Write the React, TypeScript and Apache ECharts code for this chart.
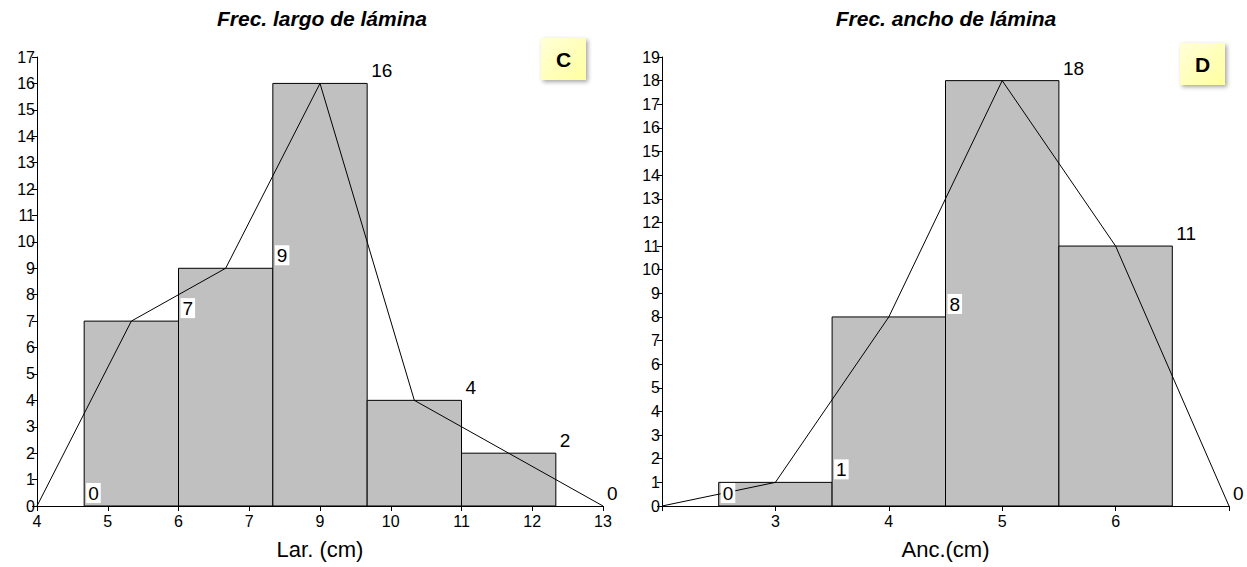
import React, { useEffect, useRef } from "react";
import * as echarts from "echarts";

// ---- Left panel (C): Frec. largo de lámina ----
const leftBinEdges = [4.75, 6.25, 7.75, 9.25, 10.75, 12.25];
const leftFreq = [7, 9, 16, 4, 2];
const leftPolyX = [4, 5.5, 7, 8.5, 10, 11.5, 13];
const leftPolyY = [0, 7, 9, 16, 4, 2, 0];
const leftLabelX = [4.75, 6.25, 7.75, 9.25, 10.75, 12.25, 13];
const leftLabelY = [0, 7, 9, 16, 4, 2, 0];
const leftTickValues = [4, 5.125, 6.25, 7.375, 8.5, 9.625, 10.75, 11.875, 13];
const leftTickLabels = ["4", "5", "6", "7", "9", "10", "11", "12", "13"];

// ---- Right panel (D): Frec. ancho de lámina ----
const rightBinEdges = [2.5, 3.5, 4.5, 5.5, 6.5];
const rightFreq = [1, 8, 18, 11];
const rightPolyX = [2, 3, 4, 5, 6, 7];
const rightPolyY = [0, 1, 8, 18, 11, 0];
const rightLabelX = [2.5, 3.5, 4.5, 5.5, 6.5, 7];
const rightLabelY = [0, 1, 8, 18, 11, 0];
const rightTickValues = [2, 3, 4, 5, 6, 7];
const rightTickLabels = ["", "3", "4", "5", "6", ""];

const FONT = '"Liberation Sans", Arial, sans-serif';

function binsData(edges: number[], freq: number[]) {
  return freq.map((f, i) => [edges[i], edges[i + 1], f]);
}

function barRender(params: any, api: any) {
  const x0 = api.value(0);
  const x1 = api.value(1);
  const y = api.value(2);
  const p0 = api.coord([x0, y]);
  const p1 = api.coord([x1, 0]);
  return {
    type: "rect",
    shape: { x: p0[0], y: p0[1], width: p1[0] - p0[0], height: p1[1] - p0[1] },
    style: { fill: "#c0c0c0", stroke: "#000", lineWidth: 1 },
  };
}

function labelRender(params: any, api: any) {
  const x = api.value(0);
  const y = api.value(1);
  const p = api.coord([x, y]);
  return {
    type: "text",
    x: p[0] + 2,
    y: p[1] - 3,
    style: {
      text: String(y),
      align: "left",
      verticalAlign: "bottom",
      fill: "#000",
      font: `19px ${FONT}`,
      backgroundColor: "#fff",
      padding: [1, 2, 0, 2],
    },
  };
}

function lookup(values: number[], labels: string[]) {
  return (v: number) => {
    const i = values.findIndex((t) => Math.abs(t - v) < 1e-6);
    return i >= 0 ? labels[i] : "";
  };
}

function xAxisOf(grid: number, min: number, max: number, ticks: number[], labels: string[], name: string) {
  return {
    type: "value",
    gridIndex: grid,
    min,
    max,
    name,
    nameLocation: "middle",
    nameGap: 32,
    nameTextStyle: { fontSize: 22, color: "#000", fontFamily: FONT },
    axisLine: { show: true, lineStyle: { color: "#000", width: 1 } },
    axisTick: { show: true, customValues: ticks, length: 5, lineStyle: { color: "#000" } },
    axisLabel: {
      customValues: ticks,
      formatter: lookup(ticks, labels),
      fontSize: 16,
      color: "#000",
      fontFamily: FONT,
      margin: 7,
    },
    splitLine: { show: false },
  };
}

function yAxisOf(grid: number, max: number) {
  return {
    type: "value",
    gridIndex: grid,
    min: 0,
    max,
    interval: 1,
    axisLine: { show: true, lineStyle: { color: "#000", width: 1 } },
    axisTick: { show: true, length: 5, lineStyle: { color: "#000" } },
    axisLabel: { fontSize: 16, color: "#000", fontFamily: FONT, margin: 2 },
    splitLine: { show: false },
  };
}

function letterBox(x: number, y: number, letter: string) {
  return {
    type: "group",
    x,
    y,
    children: [
      {
        type: "rect",
        shape: { x: 0, y: 0, width: 45, height: 42 },
        style: {
          fill: {
            type: "linear",
            x: 0,
            y: 0,
            x2: 1,
            y2: 1,
            colorStops: [
              { offset: 0, color: "#ffffd8" },
              { offset: 1, color: "#ffffa0" },
            ],
          },
          shadowBlur: 4,
          shadowColor: "rgba(0,0,0,0.35)",
          shadowOffsetX: 2,
          shadowOffsetY: 2,
        },
      },
      {
        type: "text",
        x: 22.5,
        y: 21,
        style: {
          text: letter,
          align: "center",
          verticalAlign: "middle",
          font: `bold 21px ${FONT}`,
          fill: "#000",
        },
      },
    ],
  };
}

export default function App() {
  const ref = useRef<HTMLDivElement>(null);
  useEffect(() => {
    document.body.style.margin = "0";
    const chart = echarts.init(ref.current!, undefined, { renderer: "svg" });
    const option: any = {
      animation: false,
      backgroundColor: "#fff",
      grid: [
        { left: 37, top: 57, width: 566, height: 449 },
        { left: 662, top: 57, width: 567, height: 449 },
      ],
      xAxis: [
        xAxisOf(0, 4, 13, leftTickValues, leftTickLabels, "Lar. (cm)"),
        xAxisOf(1, 2, 7, rightTickValues, rightTickLabels, "Anc.(cm)"),
      ],
      yAxis: [yAxisOf(0, 17), yAxisOf(1, 19)],
      series: [
        {
          type: "custom",
          xAxisIndex: 0,
          yAxisIndex: 0,
          renderItem: barRender,
          encode: { x: [0, 1], y: 2 },
          data: binsData(leftBinEdges, leftFreq),
          z: 2,
        },
        {
          type: "line",
          xAxisIndex: 0,
          yAxisIndex: 0,
          data: leftPolyX.map((x, i) => [x, leftPolyY[i]]),
          symbol: "none",
          lineStyle: { color: "#000", width: 1 },
          z: 3,
        },
        {
          type: "custom",
          xAxisIndex: 0,
          yAxisIndex: 0,
          renderItem: labelRender,
          encode: { x: 0, y: 1 },
          data: leftLabelX.map((x, i) => [x, leftLabelY[i]]),
          z: 4,
        },
        {
          type: "custom",
          xAxisIndex: 1,
          yAxisIndex: 1,
          renderItem: barRender,
          encode: { x: [0, 1], y: 2 },
          data: binsData(rightBinEdges, rightFreq),
          z: 2,
        },
        {
          type: "line",
          xAxisIndex: 1,
          yAxisIndex: 1,
          data: rightPolyX.map((x, i) => [x, rightPolyY[i]]),
          symbol: "none",
          lineStyle: { color: "#000", width: 1 },
          z: 3,
        },
        {
          type: "custom",
          xAxisIndex: 1,
          yAxisIndex: 1,
          renderItem: labelRender,
          encode: { x: 0, y: 1 },
          data: rightLabelX.map((x, i) => [x, rightLabelY[i]]),
          z: 4,
        },
      ],
      graphic: [
        {
          type: "text",
          x: 322,
          y: 18,
          style: {
            text: "Frec. largo de lámina",
            align: "center",
            verticalAlign: "middle",
            font: `italic bold 21px ${FONT}`,
            fill: "#000",
          },
        },
        {
          type: "text",
          x: 946,
          y: 18,
          style: {
            text: "Frec. ancho de lámina",
            align: "center",
            verticalAlign: "middle",
            font: `italic bold 21px ${FONT}`,
            fill: "#000",
          },
        },
        letterBox(541, 38, "C"),
        letterBox(1180, 43, "D"),
      ],
    };
    chart.setOption(option);
    return () => chart.dispose();
  }, []);
  return <div ref={ref} style={{ width: 1247, height: 567 }} />;
}
